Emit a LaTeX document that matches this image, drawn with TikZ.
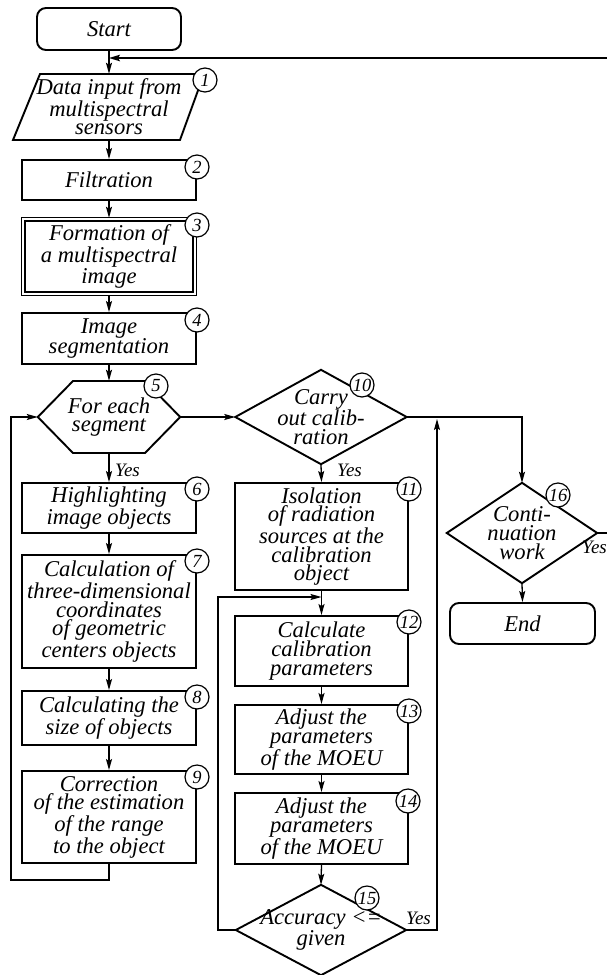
\documentclass[tikz,border=0pt]{standalone}
\usepackage{fontspec}
\setmainfont{Liberation Serif}[ItalicFont={Liberation Serif Italic}]
\usetikzlibrary{arrows.meta}
\begin{document}
\begin{tikzpicture}[x=1pt,y=-1pt,
  txt/.style={align=center,font=\itshape\fontsize{22.6}{18.7}\selectfont,inner sep=0pt},
  box/.style={txt,draw,line width=1.9pt,minimum width=174pt},
  mbox/.style={txt,draw,line width=1.9pt,minimum width=173pt},
  rbox/.style={txt,draw,line width=1.9pt,rounded corners=9pt},
  outl/.style={line width=1.9pt,line join=miter},
  num/.style={circle,draw,fill=white,line width=1.2pt,minimum size=24pt,inner sep=0pt,font=\itshape\fontsize{18.5}{18.5}\selectfont},
  arr/.style={line width=1.3pt,-{Stealth[length=11pt,width=6pt,inset=2pt]}},
  thickarr/.style={line width=1.7pt,-{Stealth[length=11pt,width=6.5pt,inset=2pt]}},
  thinarr/.style={line width=1.1pt,-{Stealth[length=11pt,width=6pt,inset=2pt]}},
  lab/.style={font=\itshape\fontsize{19}{19}\selectfont,inner sep=0pt}
]
\useasboundingbox (0,0) rectangle (607,975);
\fill[white] (0,0) rectangle (607,975);

% ---- left column
\node[rbox,minimum width=144pt,minimum height=42pt] (start) at (109,29) {Start};
\node[txt,minimum width=150pt,minimum height=66pt] (n1) at (109,107) {Data input from\\multispectral\\sensors};
\draw[outl] (40,74) -- (204,74) -- (180,140) -- (13,140) -- cycle;
\node[box,minimum height=40pt] (n2) at (109,180) {Filtration};
\node[txt,minimum width=174pt,minimum height=77pt] (n3) at (109,256.5) {Formation of\\a multispectral\\image};
\draw[line width=1.2pt] (n3.north west) rectangle (n3.south east);
\draw[line width=1.6pt] ([shift={(3.2,3.2)}]n3.north west) rectangle ([shift={(-3.2,-3.2)}]n3.south east);
\node[box,minimum height=51pt] (n4) at (109,338.5) {Image\\segmentation};
\node[txt,minimum width=142pt,minimum height=72pt] (n5) at (109,417) {For each\\segment};
\draw[outl] (n5.west) -- (73,381) -- (145,381) -- (n5.east) -- (145,453) -- (73,453) -- cycle;
\node[box,minimum height=50pt] (n6) at (109,508) {Highlighting\\image objects};
\node[box,minimum height=113pt] (n7) at (109,611.5) {Calculation of\\three-dimensional\\coordinates\\of geometric\\centers objects};
\node[box,minimum height=54pt] (n8) at (109,718) {Calculating the\\size of objects};
\node[box,minimum height=92pt] (n9) at (109,817) {Correction\\of the estimation\\of the range\\to the object};

% ---- middle column
\node[txt,minimum width=171pt,minimum height=94pt] (n10) at (321,417) {Carry\\out calib-\\ration};
\draw[outl] (n10.west) -- (n10.north) -- (n10.east) -- (n10.south) -- cycle;
\node[mbox,minimum height=107pt] (n11) at (321.5,536.5) {Isolation\\of radiation\\sources at the\\calibration\\object};
\node[mbox,minimum height=70pt] (n12) at (321.5,651) {Calculate\\calibration\\parameters};
\node[mbox,minimum height=69pt] (n13) at (321.5,739.5) {Adjust the\\parameters\\of the MOEU};
\node[mbox,minimum height=71pt] (n14) at (321.5,828.5) {Adjust the\\parameters\\of the MOEU};
\node[txt,minimum width=170pt,minimum height=90pt] (n15) at (321,930) {Accuracy <=\\given};
\draw[outl] (n15.west) -- (n15.north) -- (n15.east) -- (n15.south) -- cycle;

% ---- right column
\node[txt,minimum width=150pt,minimum height=100pt] (n16) at (522,533) {Conti-\\nuation\\work};
\draw[outl] (n16.west) -- (n16.north) -- (n16.east) -- (n16.south) -- cycle;
\node[rbox,minimum width=145pt,minimum height=41pt] (end) at (522.5,623.5) {End};

% ---- connectors
\coordinate (fbL) at (109,58);
\coordinate (fbR) at (610,58);
\coordinate (r16) at (610,533);
\coordinate (l1) at (11,880);
\coordinate (l2) at (218,597);
\coordinate (j12) at (321.5,597);
\coordinate (l3) at (437,419);

\draw[arr] (start.south) -- (n1.north);
\draw[thickarr] (n16.east) -- (r16) -- (fbR) -- (fbL);
\draw[arr] (n1.south) -- (n2.north);
\draw[arr] (n2.south) -- (n3.north);
\draw[arr] (n3.south) -- (n4.north);
\draw[arr] (n4.south) -- (n5.north);
\draw[arr] (n5.south) -- (n6.north);
\draw[arr] (n6.south) -- (n7.north);
\draw[arr] (n7.south) -- (n8.north);
\draw[arr] (n8.south) -- (n9.north);
\draw[thinarr] (n9.south) |- (l1) |- (n5.west);
\draw[arr] (n5.east) -- (n10.west);
\draw[arr] (n10.south) -- (n11.north);
\draw[arr] (n11.south) -- (n12.north);
\draw[arr] (n12.south) -- (n13.north);
\draw[arr] (n13.south) -- (n14.north);
\draw[arr] (n14.south) -- (n15.north);
\draw[thinarr] (n15.west) -| (l2) -- (j12);
\draw[thinarr] (n15.east) -| (l3);
\draw[arr] (n10.east) -| (n16.north);
\draw[arr] (n16.south) -- (end.north);

% ---- labels
\node[lab,anchor=west] (y5) at (115,470) {Yes};
\node[lab,anchor=west] (y10) at (337,470) {Yes};
\node[lab,anchor=west] (y15) at (406,918) {Yes};
\node[lab,anchor=west] (y16) at (582,547) {Yes};

% ---- number circles
\node[num] (c1) at (205,80) {1};
\node[num] (c2) at (197,167) {2};
\node[num] (c3) at (197,225) {3};
\node[num] (c4) at (197,320) {4};
\node[num] (c5) at (156,386) {5};
\node[num] (c6) at (197,489) {6};
\node[num] (c7) at (197,561) {7};
\node[num] (c8) at (197,697) {8};
\node[num] (c9) at (197,777) {9};
\node[num] (c10) at (362,385) {10};
\node[num] (c11) at (409,489) {11};
\node[num] (c12) at (409,622) {12};
\node[num] (c13) at (409,711) {13};
\node[num] (c14) at (408,801) {14};
\node[num] (c15) at (367,898) {15};
\node[num] (c16) at (558,495) {16};
\end{tikzpicture}
\end{document}
